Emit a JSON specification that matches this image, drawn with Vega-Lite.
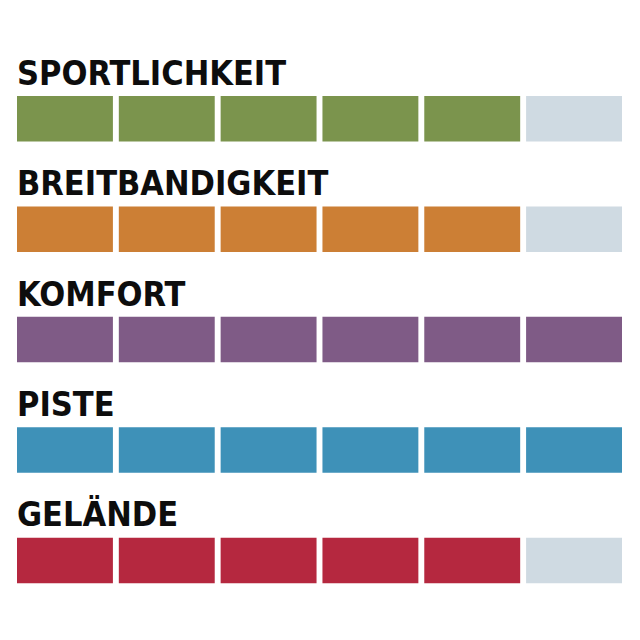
{
  "$schema": "https://vega.github.io/schema/vega-lite/v6.json",
  "autosize": {"type": "fit", "contains": "padding"},
  "width": 640,
  "height": 640,
  "padding": {"left": 17, "right": 18, "top": 41, "bottom": 47},
  "background": "white",
  "config": {"view": {"stroke": null}},
  "data": {
    "values": [
      {"kategorie": "SPORTLICHKEIT", "stufe": 1, "wert": 5},
      {"kategorie": "SPORTLICHKEIT", "stufe": 2, "wert": 5},
      {"kategorie": "SPORTLICHKEIT", "stufe": 3, "wert": 5},
      {"kategorie": "SPORTLICHKEIT", "stufe": 4, "wert": 5},
      {"kategorie": "SPORTLICHKEIT", "stufe": 5, "wert": 5},
      {"kategorie": "SPORTLICHKEIT", "stufe": 6, "wert": 5},
      {"kategorie": "BREITBANDIGKEIT", "stufe": 1, "wert": 5},
      {"kategorie": "BREITBANDIGKEIT", "stufe": 2, "wert": 5},
      {"kategorie": "BREITBANDIGKEIT", "stufe": 3, "wert": 5},
      {"kategorie": "BREITBANDIGKEIT", "stufe": 4, "wert": 5},
      {"kategorie": "BREITBANDIGKEIT", "stufe": 5, "wert": 5},
      {"kategorie": "BREITBANDIGKEIT", "stufe": 6, "wert": 5},
      {"kategorie": "KOMFORT", "stufe": 1, "wert": 6},
      {"kategorie": "KOMFORT", "stufe": 2, "wert": 6},
      {"kategorie": "KOMFORT", "stufe": 3, "wert": 6},
      {"kategorie": "KOMFORT", "stufe": 4, "wert": 6},
      {"kategorie": "KOMFORT", "stufe": 5, "wert": 6},
      {"kategorie": "KOMFORT", "stufe": 6, "wert": 6},
      {"kategorie": "PISTE", "stufe": 1, "wert": 6},
      {"kategorie": "PISTE", "stufe": 2, "wert": 6},
      {"kategorie": "PISTE", "stufe": 3, "wert": 6},
      {"kategorie": "PISTE", "stufe": 4, "wert": 6},
      {"kategorie": "PISTE", "stufe": 5, "wert": 6},
      {"kategorie": "PISTE", "stufe": 6, "wert": 6},
      {"kategorie": "GELÄNDE", "stufe": 1, "wert": 5},
      {"kategorie": "GELÄNDE", "stufe": 2, "wert": 5},
      {"kategorie": "GELÄNDE", "stufe": 3, "wert": 5},
      {"kategorie": "GELÄNDE", "stufe": 4, "wert": 5},
      {"kategorie": "GELÄNDE", "stufe": 5, "wert": 5},
      {"kategorie": "GELÄNDE", "stufe": 6, "wert": 5}
    ]
  },
  "encoding": {
    "x": {
      "field": "stufe",
      "type": "ordinal",
      "scale": {"paddingInner": 0.058, "paddingOuter": 0},
      "axis": null
    },
    "y": {
      "field": "kategorie",
      "type": "nominal",
      "sort": ["SPORTLICHKEIT", "BREITBANDIGKEIT", "KOMFORT", "PISTE", "GELÄNDE"],
      "scale": {"padding": 0},
      "axis": null
    }
  },
  "layer": [
    {
      "mark": {"type": "rect", "height": 45.5, "yOffset": 22.6},
      "encoding": {
        "color": {
          "condition": {"test": "datum.stufe > datum.wert", "value": "#cfdae2"},
          "field": "kategorie",
          "type": "nominal",
          "scale": {
            "domain": ["SPORTLICHKEIT", "BREITBANDIGKEIT", "KOMFORT", "PISTE", "GELÄNDE"],
            "range": ["#7b944d", "#cc7f35", "#7f5b86", "#3e91b8", "#b5283f"]
          },
          "legend": null
        }
      }
    },
    {
      "transform": [{"filter": "datum.stufe == 1"}],
      "mark": {
        "type": "text",
        "align": "left",
        "baseline": "alphabetic",
        "dy": -11.5,
        "font": "DejaVu Sans Condensed, DejaVu Sans, sans-serif",
        "fontWeight": "bold",
        "fontSize": 34,
        "color": "#0d0d0d"
      },
      "encoding": {
        "x": {"field": "stufe", "type": "ordinal", "bandPosition": 0},
        "text": {"field": "kategorie"}
      }
    }
  ]
}
